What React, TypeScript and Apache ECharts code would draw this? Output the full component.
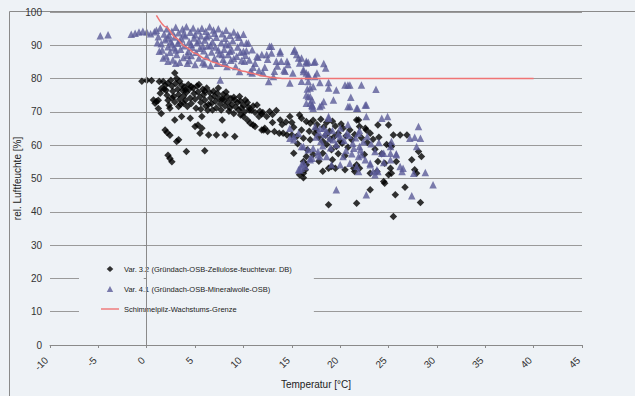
import React, { useEffect, useRef } from "react";
import * as echarts from "echarts";

const xTickMin = -10;
const xTickMax = 45;
const yTickMin = 0;
const yTickMax = 100;

const seriesNames = [
  "Var. 3.2 (Gründach-OSB-Zellulose-feuchtevar. DB)",
  "Var. 4.1 (Gründach-OSB-Mineralwolle-OSB)",
  "Schimmelpilz-Wachstums-Grenze",
];

// Var. 3.2 – [Temperatur °C, rel. Luftfeuchte %]
const var32: number[][] = [
  [-0.5, 79.2], [0, 79.5], [0.5, 79.4], [1.3, 79.1], [2.9, 81.7],
  [1.2, 73.5], [1.4, 75.6], [1.0, 73.1], [1.5, 77], [1.7, 79.1], [1.9, 78], [2.0, 76.5], [2.1, 75],
  [2.2, 73.5], [2.3, 72], [2.4, 71.1], [2.5, 79.5], [2.6, 77.8], [2.7, 76.2], [2.8, 74.6], [2.9, 73],
  [3.0, 78.5], [3.1, 80], [3.2, 76.8], [3.3, 75.2], [3.4, 73.8], [3.5, 72.3], [3.6, 78], [3.7, 76.5],
  [3.8, 74.8], [3.9, 77.5], [4.0, 73.5], [4.1, 75.8], [4.2, 71.6], [4.3, 78.2], [4.4, 76.8], [4.5, 74.2],
  [4.6, 72.5], [4.8, 77.2], [4.9, 75.5], [5.0, 73.8], [5.1, 71.1], [5.2, 77.8], [5.3, 76], [5.5, 74.5],
  [5.6, 72.8], [5.8, 76.8], [5.9, 75.2], [6.0, 73.6], [6.1, 71.8], [6.2, 77.2], [6.3, 70.5], [6.5, 75.8],
  [6.6, 74.2], [6.7, 72.5], [6.9, 76.2], [7.0, 74.8], [7.1, 73.2], [7.2, 71.2], [7.3, 75.6], [7.5, 74],
  [7.6, 72.4], [7.7, 70.6], [7.9, 75.2], [8.0, 73.5], [8.1, 71.8], [8.3, 74.6], [8.4, 72.8], [8.5, 70.2],
  [8.7, 74], [8.8, 72.2], [9.0, 69.5], [9.1, 73.6], [9.2, 71.5], [9.4, 72.8], [9.5, 70.6], [9.7, 73.2],
  [9.8, 71.2], [10.0, 72], [10.1, 70], [10.2, 73.6], [10.5, 71.5], [10.8, 70.5], [11.0, 71.8], [11.4, 72.1],
  [11.2, 69.8], [11.7, 70.2], [12.0, 69.8],
  [1.8, 76.8], [2.2, 78.6], [2.6, 74.2], [3.4, 79.2], [3.8, 72.6], [4.6, 77.6], [5.4, 78.2], [5.6, 70.8],
  [6.4, 72.2], [6.8, 70.6], [7.4, 77.2], [7.8, 73.8], [8.2, 76], [8.6, 71.2], [9.0, 74.4], [9.6, 74.6],
  [10.4, 72.8], [10.6, 70.6], [11.6, 68.6], [12.4, 68.6], [13, 69.2], [13.8, 67.6], [14.4, 67],
  [4.0, 76.6], [6.0, 76.2],
  [0.7, 73.6], [0.86, 72.6], [1.2, 71], [1.5, 69.5], [1.9, 64.6], [2.1, 63.8], [2.4, 63], [3.1, 61.1],
  [3.3, 61.6], [2.2, 57], [2.4, 56], [2.6, 55], [4.1, 58.1], [6.0, 58.3], [2.9, 67.6], [3.6, 68.6],
  [4.5, 68.1], [5, 65.6], [5.3, 66.1], [5.7, 65.1], [5.5, 63.6], [6.4, 63.1], [7.2, 63.1], [8.1, 63.1],
  [9.1, 62.6], [3.3, 71.6], [5.7, 68.6], [7.8, 67.6], [9.7, 69.1], [10, 68.6], [10.4, 67.6], [10.7, 66.6],
  [11, 66.1], [11.2, 65.6], [11.9, 64.6], [12.2, 65.1],
  [11.9, 69.4], [12.7, 70.1], [13.4, 70.4], [14.8, 68.6], [15.8, 69.1], [16, 68.1], [12.1, 64.6],
  [12.5, 64.1], [13.2, 64.1], [13.7, 63.6], [14.1, 63.6], [14.5, 63.1], [15, 63.1], [15.5, 62.6],
  [16.2, 62.1], [16.9, 61.6], [16.5, 67.1], [16.9, 66.6], [20.3, 65.1], [21, 64.6], [21.7, 67.6],
  [22, 65.6], [22.7, 64.6], [18.8, 53.1], [19.1, 53.6], [15.8, 51.1], [16.2, 55.1], [16.5, 56.6],
  [19.1, 58.6], [19.6, 59.6], [20.2, 60.6], [21.7, 54.1], [22, 53.1], [21.9, 67.6], [22.6, 65.1],
  [23.1, 63.6], [23.9, 66.1], [25, 66.1], [25.5, 63.1], [26.2, 63.1], [26.9, 63.1], [28.1, 58.1],
  [28.4, 56.6], [27.4, 55.6], [27.7, 52.6], [27.9, 51.6], [25.2, 53.1], [25.3, 51.6], [25, 51.1],
  [25.8, 55.1], [24.5, 49.1], [24.6, 48.6], [23.1, 46.6], [25.7, 45.1], [26.7, 47.4], [21.7, 42.6],
  [18.8, 42.1], [28.3, 42.8], [23.1, 51.6], [23.8, 52.1], [19.5, 53.1], [20.5, 52.6], [21.4, 53.1],
  [21.5, 52.1], [16.4, 52.6], [23.9, 55.1], [24.6, 54.6], [25.5, 38.6], [25.2, 60.1], [25.3, 59.6],
  [15.2, 57.6], [16.5, 54.1], [16.2, 51.6],
  [17.2, 67.5], [17.6, 66.2], [18, 67.8], [18.3, 65.5], [18.6, 66.8], [18.9, 64.2], [19.2, 67.2],
  [19.5, 65.8], [19.8, 63.6], [20.1, 66.4], [17.4, 63.6], [17.8, 62.4], [18.2, 61.2], [18.5, 63],
  [19, 61.8], [19.4, 62.6], [20, 61.2], [20.6, 62.8], [21.2, 61.6], [20.8, 59.4], [18.6, 60.2],
  [17.5, 64.8], [16.8, 64.2], [15.2, 65.4], [14, 66.2], [13, 66.8], [21.5, 63.2], [22.2, 62.2],
  [22.8, 60.8], [23.4, 61.8], [24, 62.4], [24.8, 60.2], [23.6, 58.8], [24.3, 57.4], [22.5, 57.2],
  [20.5, 56.8], [19.8, 57.4], [19.2, 55.6], [18.2, 57.6], [17.2, 57.2], [16.6, 58.6], [17.8, 55.2],
  [16.2, 50.2], [18.2, 52.2], [15.0, 66.8], [15.6, 60.4], [16.0, 64.6],
];

// Var. 4.1 – [Temperatur °C, rel. Luftfeuchte %]
const var41: number[][] = [
  [-4.8, 92.9], [-4.0, 93.2], [-1.6, 93.3], [-1.2, 93.6], [-0.8, 94], [-0.4, 94.2], [0, 94], [0.4, 93.5],
  [0.8, 94.1],
  [1.0, 94.5], [1.2, 92.6], [1.4, 95.2], [1.5, 90.5], [1.6, 88.6], [1.8, 93.4], [1.9, 91.7], [2.0, 86.8],
  [2.1, 95], [2.2, 89.6], [2.3, 93.1], [2.4, 87.9], [2.5, 91.2], [2.6, 94.2], [2.7, 85.6], [2.8, 89.3],
  [2.9, 92.5], [3.0, 95.4], [3.1, 87.2], [3.2, 90.6], [3.3, 93.8], [3.4, 84.9], [3.5, 88.8], [3.6, 91.9],
  [3.7, 94.9], [3.8, 86.3], [3.9, 89.9], [4.0, 92.9], [4.1, 95.6], [4.2, 84.6], [4.3, 88.2], [4.4, 91.1],
  [4.5, 93.9], [4.6, 86.9], [4.7, 89.4], [4.8, 95.2], [4.9, 92.2], [5.0, 84.2], [5.1, 87.9], [5.2, 90.8],
  [5.3, 94.4], [5.4, 86.2], [5.5, 89.1], [5.6, 92.9], [5.7, 95.1], [5.8, 84.8], [5.9, 88.4], [6.0, 91.6],
  [6.1, 94.2], [6.2, 86.6], [6.3, 89.8], [6.4, 93], [6.5, 95.6], [6.6, 83.9], [6.7, 88], [6.8, 91.1],
  [6.9, 94.6], [7.0, 86.1], [7.1, 89.5], [7.2, 92.4], [7.3, 84.6], [7.4, 95], [7.5, 87.5], [7.6, 79.6],
  [7.7, 90.8], [7.8, 93.5], [7.9, 85.8], [8.0, 88.8], [8.1, 92.1], [8.2, 94.5], [8.3, 83.6], [8.4, 87.2],
  [8.5, 90.2], [8.6, 93], [8.7, 85.5], [8.8, 88.6], [8.9, 91.4], [9.0, 94], [9.2, 83.6], [9.3, 86.7],
  [9.4, 89.5], [9.5, 92.4], [9.6, 82.1], [9.7, 87.9], [9.8, 90.8], [10.0, 93.3], [10.1, 85.2],
  [10.3, 88.4], [10.5, 90.7], [10.7, 82.1], [10.9, 81.7], [10.9, 88.7], [10, 88.2],
  [1.1, 90.8], [1.3, 88.2], [1.7, 86.2], [2.2, 92.2], [2.6, 90.4], [3.0, 88.6], [3.4, 91.4], [3.8, 93.4],
  [4.2, 87], [4.6, 90.3], [5.0, 93.2], [5.4, 91.4], [5.8, 89.8], [6.2, 92.6], [6.6, 90], [7.0, 93.6],
  [7.4, 88.6], [7.8, 87.2], [8.2, 90.4], [8.6, 88.2], [9.0, 86], [9.4, 93.2], [9.8, 85.4], [10.2, 87],
  [10.6, 85.6], [11.0, 83.4], [11.6, 82.4], [12.0, 81.8], [12.5, 85.8], [13.2, 82.2], [8.0, 84.6],
  [6.0, 84.4], [4.4, 85.4], [3.0, 84.6], [2.2, 85.2],
  [11.9, 87.2], [12.7, 89.7], [12.9, 87.7], [13.8, 87.7], [13.9, 85.2], [12.6, 79.1], [13.1, 80.6],
  [14.6, 84.2], [14.8, 78.7], [15.1, 81.7], [15.3, 88.7], [15.7, 86.2], [15.8, 84.7], [16.2, 82.7],
  [16.5, 84.7], [16.7, 81.2], [16.9, 77.2], [17.4, 85.2], [17.6, 81.7], [16.5, 75.1], [16.9, 72.7],
  [11.2, 84.6], [12.2, 83.4], [11.5, 86.4], [14.2, 82.6], [13.5, 83.8], [10.3, 90.7], [11.4, 86.7],
  [12.4, 87.2], [12.9, 89.7], [13.8, 88.2], [13.4, 85.2], [14.5, 85.2], [15.2, 88.2], [15.5, 87.2],
  [16.5, 85.2], [14.3, 82.2], [16, 79.2], [16.5, 81.7],
  [16, 86.2], [16.7, 84.9], [17.3, 84.9], [18.3, 84.5], [18.5, 83.2], [16.2, 82.1], [16.7, 80.6],
  [17.4, 80.6], [16.7, 79.1], [17.9, 78.8], [18.8, 78.8], [18.8, 77.2], [19.6, 76.6], [20.5, 78.1],
  [20.8, 78.1], [21, 78.1], [22.2, 78.1], [23.7, 76.8], [16.6, 76.9], [16.9, 74.6], [16.5, 72.6],
  [17.2, 71.1], [17.1, 72.1], [18.3, 73.1], [17.9, 71.6], [19.3, 73.6], [21.1, 74.4], [21, 71.6],
  [21.8, 71.1], [22.6, 72.1], [22.7, 68.6], [24.3, 68.1], [24.9, 68.6], [28.1, 65.6], [27.2, 62.1],
  [27.7, 62.4], [28.3, 62.1], [27.9, 59.6], [28.8, 51.8], [29.6, 48.1], [27.4, 44.8], [22.7, 45.1],
  [19.6, 46.6], [27.6, 51.6], [26.4, 52.1], [26.2, 53.6], [26.5, 53.1], [25.8, 57.4], [25.3, 61.1],
  [25.2, 59.6], [24.3, 57.6], [23.6, 58.1], [24.5, 54.8], [23.8, 52.6], [23.9, 52.1], [23.1, 54.6],
  [22, 59.6], [21.4, 59.1], [21.9, 56.6], [21.9, 63.6], [20.7, 63.6], [20, 62.6], [19.3, 61.6],
  [18.8, 68.6], [16.7, 74.6], [17.1, 72.1], [18.1, 72.1], [20.8, 71.6], [21.7, 71.1], [22.7, 72.1],
  [18.8, 68.1], [17.4, 65.6], [17.9, 65.1], [18.3, 65.1], [18.6, 64.1], [14.8, 62.1], [15.2, 61.6],
  [16.2, 59.6], [17.1, 56.1], [16.9, 55.6], [16.2, 54.6], [16, 53.1], [15.8, 52.6], [17.7, 57.1],
  [14.8, 65.1], [15.2, 62.6], [15.7, 63.6], [16, 59.6], [15.7, 52.6], [16, 54.1], [16.4, 53.6],
  [17.2, 77.6], [17.1, 73.6], [17.1, 71.6], [24.5, 57.6], [25.2, 57.6], [25.8, 57.1], [25.2, 55.6],
  [23.4, 52.1], [23.6, 51.1], [22.6, 55.6], [23.1, 54.1], [22.1, 58.6], [22.2, 57.1], [20.3, 56.6],
  [21, 54.6], [21.7, 53.6], [21.9, 52.1], [19.1, 54.1], [20, 54.1], [16.9, 56.1], [17.9, 56.6],
  [18.6, 56.6], [16.7, 58.6], [17.2, 59.1], [17.7, 58.1],
  [17.5, 62.5], [18, 61.2], [18.4, 63.2], [18.9, 62], [19.2, 64.4], [19.6, 60.2], [20, 65.2],
  [20.4, 61.4], [20.9, 63], [21.3, 60.6], [21.6, 62.2], [22, 64.4], [22.4, 61], [19, 59.2], [18.2, 59.8],
  [20.6, 58.4], [21.2, 57.4], [17.8, 63.8], [19.8, 63.4], [20.8, 66.2], [22.8, 62.6], [23.2, 60.4],
  [24, 60.8],
];

// Schimmelpilz-Wachstums-Grenze – [Temperatur °C, rel. Luftfeuchte %]
const limitCurve: number[][] = [
  [1, 99], [2, 95.5], [3, 92.2], [4, 89.6], [5, 87.6], [6, 86], [7, 84.8], [8, 83.8], [9, 83],
  [10, 82.2], [11, 81.5], [12, 80.8], [13, 80.3], [14, 80.05], [15, 80], [20, 80], [30, 80], [40, 80],
];

const BG = "#eef2f6";
const FONT = "'Liberation Sans', Arial, sans-serif";

const ICON_DIAMOND = "path://M0 0M18 7M9 0.4L12.3 3.5L9 6.6L5.7 3.5Z";
const ICON_TRIANGLE = "path://M0 0M18 7M9 0.6L12.2 6.4L5.8 6.4Z";
const ICON_LINE = "path://M0 0M18 7M0 2.8L18 2.8L18 4.2L0 4.2Z";

export default function App() {
  const ref = useRef<HTMLDivElement>(null);
  useEffect(() => {
    if (!ref.current) return;
    const chart = echarts.init(ref.current, undefined, { renderer: "svg" });
    chart.setOption({
      animation: false,
      backgroundColor: BG,
      textStyle: { fontFamily: FONT },
      graphic: [
        {
          type: "rect",
          left: 7,
          top: 9,
          shape: { x: 0, y: 0, width: 1000, height: 1000 },
          style: { fill: "none", stroke: "#8a8a8a", lineWidth: 1 },
          silent: true,
          z: -1,
        },
      ],
      grid: { left: 50, right: 53, top: 12, bottom: 51, containLabel: false },
      legend: {
        orient: "vertical",
        left: 79,
        top: 257,
        padding: [8, 22, 8, 22],
        itemWidth: 18,
        itemHeight: 7,
        itemGap: 12,
        backgroundColor: BG,
        z: 5,
        textStyle: { fontSize: 7.5, color: "#222", fontFamily: FONT },
        data: [
          { name: seriesNames[0], icon: ICON_DIAMOND },
          { name: seriesNames[1], icon: ICON_TRIANGLE },
          { name: seriesNames[2], icon: ICON_LINE },
        ],
      },
      xAxis: {
        type: "value",
        min: xTickMin,
        max: xTickMax,
        interval: 5,
        name: "Temperatur [°C]",
        nameLocation: "middle",
        nameGap: 33,
        nameTextStyle: { fontSize: 10, color: "#222", fontFamily: FONT },
        axisLine: { onZero: false, lineStyle: { color: "#8a8a8a", width: 1 } },
        axisTick: { show: true, length: 3, lineStyle: { color: "#8a8a8a" } },
        axisLabel: {
          rotate: 45,
          fontSize: 10,
          color: "#333",
          margin: 10,
          padding: [0, 5, 0, 0],
          fontFamily: FONT,
        },
        splitLine: { show: false },
      },
      yAxis: [
        {
          type: "value",
          position: "left",
          min: yTickMin,
          max: yTickMax,
          interval: 10,
          name: "rel. Luftfeuchte [%]",
          nameLocation: "middle",
          nameGap: 28,
          nameMoveOverlap: false,
          nameTextStyle: { fontSize: 10, color: "#222", fontFamily: FONT },
          axisLine: { show: false, onZero: false },
          axisTick: { show: false },
          axisLabel: { fontSize: 10, color: "#333", margin: 8, fontFamily: FONT },
          splitLine: { show: true, lineStyle: { color: "#9a9a9a", width: 1 } },
        },
        {
          type: "value",
          position: "left",
          min: yTickMin,
          max: yTickMax,
          interval: 10,
          z: 10,
          axisLine: { show: true, onZero: true, lineStyle: { color: "#8a8a8a", width: 1 } },
          axisTick: { show: true, length: 3, lineStyle: { color: "#8a8a8a" } },
          axisLabel: { show: false },
          splitLine: { show: false },
        },
      ],
      series: [
        {
          name: seriesNames[0],
          type: "scatter",
          symbol: "diamond",
          symbolSize: 7.5,
          itemStyle: { color: "#000000" },
          data: var32,
          z: 3,
        },
        {
          name: seriesNames[1],
          type: "scatter",
          symbol: "triangle",
          symbolSize: 7.5,
          itemStyle: { color: "#5b5b98" },
          data: var41,
          z: 3,
        },
        {
          name: seriesNames[2],
          type: "line",
          symbol: "none",
          smooth: 0.3,
          smoothMonotone: "x",
          lineStyle: { color: "#f07474", width: 1.5 },
          itemStyle: { color: "#f07474" },
          data: limitCurve,
          z: 4,
        },
      ],
    });
    return () => chart.dispose();
  }, []);
  return (
    <div
      ref={ref}
      style={{ position: "fixed", left: 0, top: 0, width: 635, height: 396 }}
    />
  );
}
